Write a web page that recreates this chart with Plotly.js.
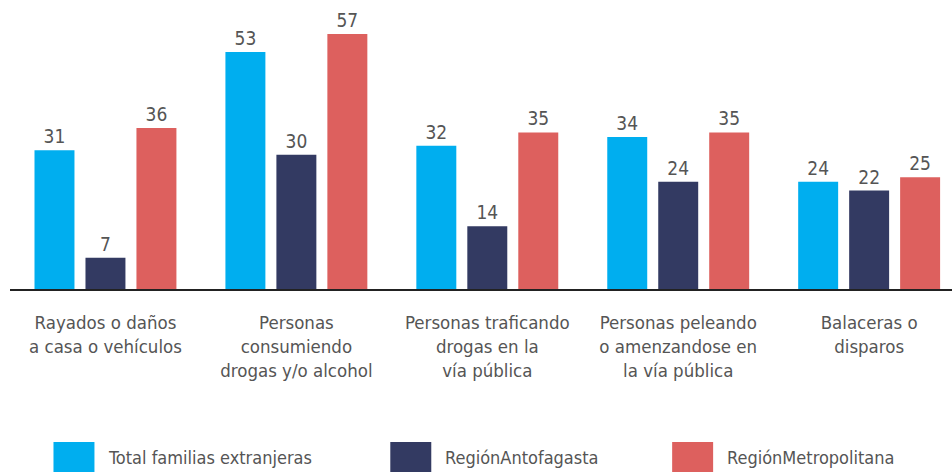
<!DOCTYPE html>
<html>
<head>
<meta charset="utf-8">
<script src="https://cdn.plot.ly/plotly-3.0.1.min.js"></script>
<style>html,body{margin:0;padding:0;background:#fff;}#chart{width:952px;height:472px;}</style>
</head>
<body>
<div id="chart"></div>
<script>
const categories = ["c1","c2","c3","c4","c5"];
const tickLabels = [
  "Rayados o daños<br>a casa o vehículos",
  "Personas<br>consumiendo<br>drogas y/o alcohol",
  "Personas traficando<br>drogas en la<br>vía pública",
  "Personas peleando<br>o amenzandose en<br>la vía pública",
  "Balaceras o<br>disparos"
];
const seriesNames = ["Total familias extranjeras", "RegiónAntofagasta", "RegiónMetropolitana"];
const totalFamilias = [31, 53, 32, 34, 24];
const antofagasta = [7, 30, 14, 24, 22];
const metropolitana = [36, 57, 35, 35, 25];
const colors = ["#00AEEF", "#333A62", "#DD605E"];

const FONT = '"DejaVu Sans Condensed", "Liberation Sans Narrow", "Roboto", sans-serif';
const values = [totalFamilias, antofagasta, metropolitana];

const traces = values.map((v, i) => ({
  type: 'bar',
  name: seriesNames[i],
  x: categories,
  y: v,
  marker: {color: colors[i]},
  text: v.map(String),
  textposition: 'outside',
  cliponaxis: false,
  textfont: {family: FONT, size: 19, color: '#555555'},
  showlegend: false,
  hoverinfo: 'none'
}));

const legendX = [53, 390, 672];
const shapes = [];
const annotations = [];
seriesNames.forEach((n, i) => {
  shapes.push({type: 'rect', xref: 'paper', yref: 'paper',
    x0: (legendX[i] - 9.5) / 942.5, x1: (legendX[i] + 41 - 9.5) / 942.5,
    y0: (289 - 472) / 289, y1: (289 - 442) / 289,
    fillcolor: colors[i], line: {width: 0}});
  annotations.push({xref: 'paper', yref: 'paper',
    x: (legendX[i] + 53 - 9.5) / 942.5, y: (289 - 458) / 289,
    xanchor: 'left', yanchor: 'middle', showarrow: false,
    text: n, font: {family: FONT, size: 18, color: '#555555'}});
});

const layout = {
  width: 952, height: 472,
  margin: {l: 9.5, r: 0, t: 0, b: 183},
  paper_bgcolor: '#ffffff', plot_bgcolor: '#ffffff',
  barmode: 'group',
  bargap: 0.199,
  bargroupgap: 0.216,
  xaxis: {
    range: [-0.5, 4.434],
    tickvals: categories, ticktext: tickLabels,
    tickfont: {family: FONT, size: 18.5, color: '#555555'},
    showline: true, linecolor: '#222222', linewidth: 2,
    ticks: 'outside', ticklen: 16, tickcolor: 'rgba(0,0,0,0)',
    showgrid: false, zeroline: false, fixedrange: true
  },
  yaxis: {
    range: [0, 64.6], visible: false, showgrid: false, zeroline: false, fixedrange: true
  },
  shapes: shapes,
  annotations: annotations,
  showlegend: false
};

Plotly.newPlot('chart', traces, layout, {staticPlot: true, displayModeBar: false});
</script>
</body>
</html>
